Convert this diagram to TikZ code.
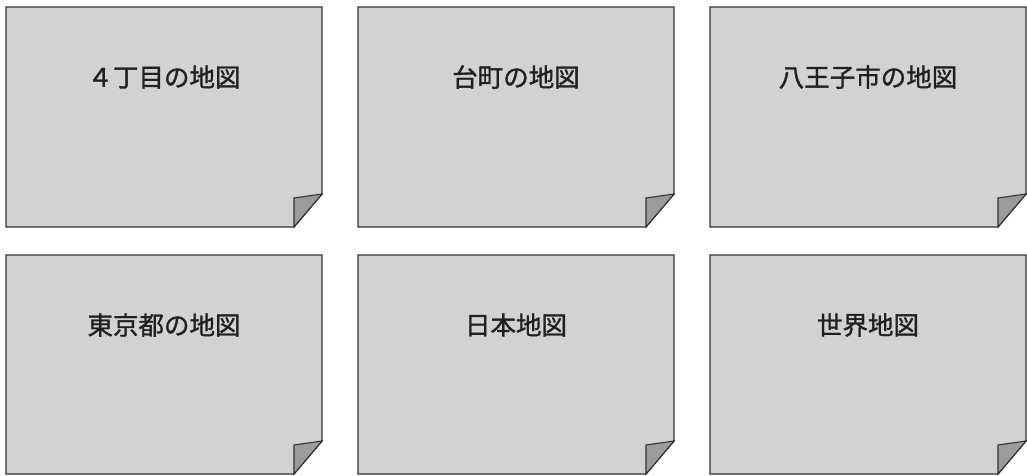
\documentclass[tikz,border=0pt]{standalone}
\usepackage{fontspec}
\newfontfamily\cjk[FakeBold=1.2]{Noto Sans CJK JP}
\definecolor{paper}{HTML}{D1D2D4}
\definecolor{foldc}{HTML}{9B9C9E}
\definecolor{edge}{HTML}{333333}
\definecolor{ink}{HTML}{231F20}
\tikzset{
  sheet/.style={fill=paper,draw=edge,line width=1.4pt,line join=miter},
  flap/.style={fill=foldc,draw=edge,line width=1.1pt,line join=miter},
  lbl/.style={font=\cjk\fontsize{25.5}{28}\selectfont,text=ink,inner sep=0pt}
}
\newcommand{\mysheet}[4]{% left, top, bottom, name
  \begin{scope}
  \draw[sheet] (#1,#2) -- (#1+316,#2) -- (#1+316,#3-33) -- (#1+288,#3) -- (#1,#3) -- cycle;
  \draw[flap] (#1+288,#3) -- (#1+288,#3-29) -- (#1+316,#3-33) -- cycle;
  \coordinate (#4) at (#1+158,#2);
  \end{scope}}
\begin{document}
\begin{tikzpicture}[x=1pt,y=-1pt]
\useasboundingbox (0,0) rectangle (1027,475);
\mysheet{6}{7}{227}{a}
\mysheet{358}{7}{227}{b}
\mysheet{710}{7}{227}{c}
\mysheet{6}{255}{474}{d}
\mysheet{358}{255}{474}{e}
\mysheet{710}{255}{474}{f}
\node[lbl] (ta) at ([yshift=-70pt]a) {４丁目の地図};
\node[lbl] (tb) at ([yshift=-70pt]b) {台町の地図};
\node[lbl] (tc) at ([yshift=-70pt]c) {八王子市の地図};
\node[lbl] (td) at ([yshift=-70pt]d) {東京都の地図};
\node[lbl] (te) at ([yshift=-70pt]e) {日本地図};
\node[lbl] (tf) at ([yshift=-70pt]f) {世界地図};
\end{tikzpicture}
\end{document}
